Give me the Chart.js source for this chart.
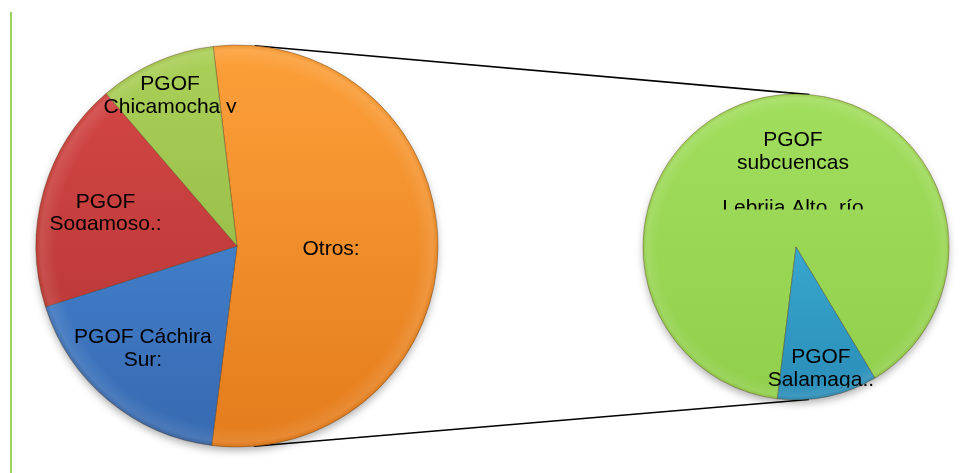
<!DOCTYPE html>
<html><head><meta charset="utf-8">
<script src="https://cdn.jsdelivr.net/npm/chart.js@4"></script>
<style>
html,body{margin:0;padding:0;background:#fff;}
#wrap{position:relative;width:961px;height:473px;overflow:hidden;background:#fff;}
canvas{position:absolute;}
</style></head><body>
<div id="wrap">
<canvas id="bg" width="961" height="473" style="left:0;top:0"></canvas>
<canvas id="main" width="440" height="440" style="left:17px;top:26px"></canvas>
<canvas id="sub" width="340" height="340" style="left:626px;top:77px"></canvas>
</div>
<script>
// ---- data (percent of total) ----
const subCategories = ['PGOF subcuencas Lebrija Alto, río', 'PGOF Salamaga'];
const subValues = [48.2, 5.7];
const mainCategories = ['Otros', 'PGOF Cáchira Sur', 'PGOF Sogamoso', 'PGOF Chicamocha y'];
const mainOwnValues = [18.1, 18.6, 9.4];
const mainValues = [subValues[0] + subValues[1]].concat(mainOwnValues);
const mainLabelLines = [['Otros:'], ['PGOF Cáchira', 'Sur:'], ['PGOF', 'Sogamoso.:'], ['PGOF', 'Chicamocha y']];
const subLabelLines = [['PGOF', 'subcuencas', '', 'Lebrija Alto, río'], ['PGOF', 'Salamaga..']];

// ---- styles ----
const mainColors = [['#FCA03A', '#E47C1C'], ['#4C92E0', '#3669B0'], ['#D64846', '#B03332'], ['#AAD058', '#8CB13E']];
const subColors = [['#A2DE5E', '#90CF4B'], ['#45C0E4', '#2A8DB8']];
const MAIN_R = 201, SUB_R = 153;
const FONT = '21px "Liberation Sans", Arial, sans-serif';
const LINE_H = 22.7;
const mainLabelPos = [
  {ax: 0.468, ay: 0.015},
  {ax: -0.468, ay: 0.453},
  {ax: -0.654, ay: -0.219, clip: -0.080},
  {ax: -0.333, ay: -0.803, clip: -0.662}
];
const subLabelPos = [
  {ax: -0.02, ay: -0.696, clip: -0.245},
  {ax: 0.163, ay: 0.722, clip: 0.918}
];

function gradFor(pairs, R) {
  return function (ctx) {
    const pair = pairs[ctx.dataIndex];
    const a = ctx.chart.chartArea;
    if (!a) return pair[0];
    const cy = (a.top + a.bottom) / 2;
    const g = ctx.chart.ctx.createLinearGradient(0, cy - R, 0, cy + R);
    g.addColorStop(0, pair[0]);
    g.addColorStop(1, pair[1]);
    return g;
  };
}

const shadowPlugin = {
  id: 'pieShadow',
  beforeDatasetsDraw(chart) {
    const el = chart.getDatasetMeta(0).data[0];
    if (!el) return;
    const c = chart.ctx;
    c.save();
    c.shadowColor = 'rgba(0,0,0,0.35)';
    c.shadowBlur = 8;
    c.shadowOffsetY = 4;
    c.fillStyle = '#fff';
    c.beginPath();
    c.arc(el.x, el.y, el.outerRadius - 1, 0, Math.PI * 2);
    c.fill();
    c.restore();
  }
};

function bevelPlugin() {
  return {
    id: 'bevel',
    afterDatasetsDraw(chart) {
      const el = chart.getDatasetMeta(0).data[0];
      const c = chart.ctx, r = el.outerRadius;
      c.save();
      const g = c.createRadialGradient(el.x, el.y, r * 0.9, el.x, el.y, r);
      g.addColorStop(0, 'rgba(255,255,255,0)');
      g.addColorStop(0.75, 'rgba(255,255,255,0.10)');
      g.addColorStop(1, 'rgba(120,60,0,0.10)');
      c.fillStyle = g;
      c.beginPath();
      c.arc(el.x, el.y, r, 0, Math.PI * 2);
      c.fill();
      c.restore();
    }
  };
}

function labelPlugin(lines, pos) {
  return {
    id: 'sliceText',
    afterDatasetsDraw(chart) {
      const el = chart.getDatasetMeta(0).data[0];
      const cx = el.x, cy = el.y, r = el.outerRadius;
      const c = chart.ctx;
      pos.forEach((p, i) => {
        c.save();
        if (p.clip !== undefined) {
          c.beginPath();
          c.rect(0, 0, chart.width, cy + p.clip * r);
          c.clip();
        }
        c.font = FONT;
        c.fillStyle = '#000';
        c.textAlign = 'center';
        c.textBaseline = 'middle';
        lines[i].forEach((t, k) => c.fillText(t, cx + p.ax * r, cy + p.ay * r + k * LINE_H));
        c.restore();
      });
    }
  };
}

function pieConfig(labels, values, colors, R, rotation, lines, pos) {
  return {
    type: 'pie',
    data: {
      labels: labels,
      datasets: [{
        data: values,
        backgroundColor: gradFor(colors, R),
        borderColor: 'rgba(70,40,10,0.35)',
        borderWidth: 1
      }]
    },
    options: {
      responsive: false,
      animation: false,
      events: [],
      radius: R,
      rotation: rotation,
      layout: {padding: 0},
      plugins: {legend: {display: false}, tooltip: {enabled: false}}
    },
    plugins: [shadowPlugin, bevelPlugin(), labelPlugin(lines, pos)]
  };
}

const mainChart = new Chart(document.getElementById('main'),
  pieConfig(mainCategories, mainValues, mainColors, MAIN_R, -6.8, mainLabelLines, mainLabelPos));
const subChart = new Chart(document.getElementById('sub'),
  pieConfig(subCategories, subValues, subColors, SUB_R, 187, subLabelLines, subLabelPos));

// ---- connector lines (external tangents of the two pies) and left rule ----
(function drawBg() {
  const bg = document.getElementById('bg');
  const c = bg.getContext('2d');
  const mc = document.getElementById('main'), sc = document.getElementById('sub');
  const a = mainChart.getDatasetMeta(0).data[0];
  const b = subChart.getDatasetMeta(0).data[0];
  const ax = a.x + mc.offsetLeft, ay = a.y + mc.offsetTop, ra = a.outerRadius;
  const bx = b.x + sc.offsetLeft, by = b.y + sc.offsetTop, rb = b.outerRadius;
  const dx = bx - ax, dy = by - ay, D = Math.hypot(dx, dy);
  const ux = dx / D, uy = dy / D, px = -uy, py = ux;
  const cs = (ra - rb) / D, sn = Math.sqrt(1 - cs * cs);
  c.strokeStyle = '#000';
  c.lineWidth = 1.6;
  [-1, 1].forEach(sgn => {
    const nx = ux * cs + px * sn * sgn, ny = uy * cs + py * sn * sgn;
    c.beginPath();
    c.moveTo(ax + ra * nx, ay + ra * ny);
    c.lineTo(bx + rb * nx, by + rb * ny);
    c.stroke();
  });
  c.strokeStyle = '#9BD25B';
  c.lineWidth = 2;
  c.beginPath();
  c.moveTo(11, 12);
  c.lineTo(11, 473);
  c.stroke();
})();
</script>
</body></html>
